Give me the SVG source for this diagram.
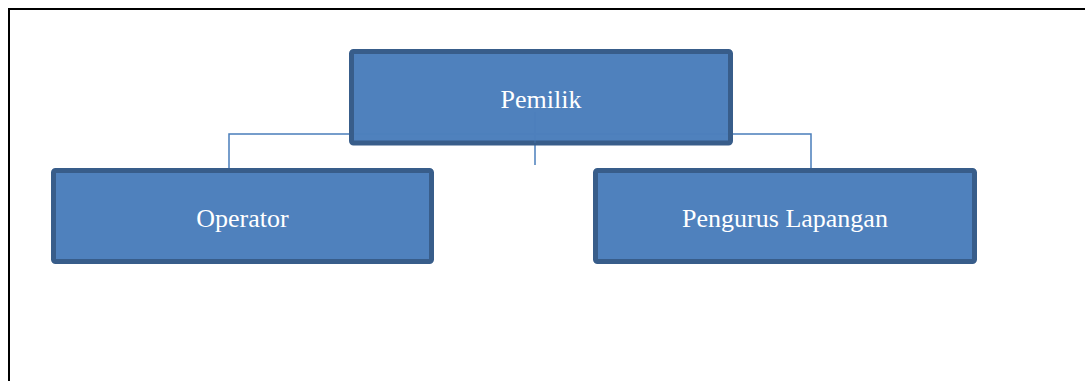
<svg xmlns="http://www.w3.org/2000/svg" width="1085" height="381" viewBox="0 0 1085 381">
  <style>
    .box { fill: #4f81bd; stroke: #385d8a; stroke-width: 5; }
    .lbl { font-family: "Liberation Serif", "Times New Roman", serif; font-size: 26px; fill: #ffffff; text-anchor: middle; }
    .conn { fill: none; stroke: #4a7ebb; stroke-width: 1.5; }
    .frame { fill: none; stroke: #000000; stroke-width: 2; }
  </style>
  <rect width="1085" height="381" fill="#ffffff"/>
  <path class="frame" d="M9,382 V9 H1086"/>
  <g id="connectors">
    <path class="conn" d="M229,170 V134 H811 V170"/>
    <path class="conn" d="M535,112 V165"/>
  </g>
  <g id="node-pemilik">
    <rect class="box" x="351.5" y="51.5" width="379" height="91.5" rx="2"/>
    <text class="lbl" x="541" y="108">Pemilik</text>
  </g>
  <g id="node-operator">
    <rect class="box" x="53.5" y="170.5" width="378" height="91" rx="2"/>
    <text class="lbl" x="242.5" y="227">Operator</text>
  </g>
  <g id="node-pengurus">
    <rect class="box" x="595.5" y="170.5" width="379" height="91" rx="2"/>
    <text class="lbl" x="785" y="227">Pengurus Lapangan</text>
  </g>
  <g id="connector-overlay" opacity="0.35">
    <path class="conn" d="M354,134 H728"/>
    <path class="conn" d="M535,112 V143"/>
  </g>
</svg>
